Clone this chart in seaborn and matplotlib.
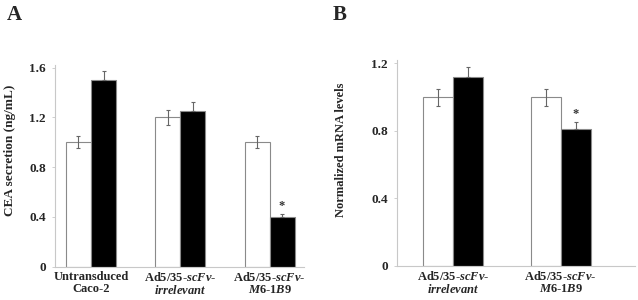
import matplotlib
matplotlib.use("Agg")
import matplotlib.pyplot as plt
import seaborn as sns
import pandas as pd

sns.set_style("white")
plt.rcParams['font.family'] = ['Liberation Serif', 'DejaVu Serif']
plt.rcParams['mathtext.fontset'] = 'custom'
plt.rcParams['mathtext.rm'] = 'Liberation Serif:bold'
plt.rcParams['mathtext.it'] = 'Liberation Serif:bold:italic'
plt.rcParams['mathtext.bf'] = 'Liberation Serif:bold'

# Panel A data
a_categories = ["Untransduced\nCaco-2",
                "$\\mathrm{Ad5/35}$-$\\mathit{scFv}$-\n$\\mathit{irrelevant}$",
                "$\\mathrm{Ad5/35}$-$\\mathit{scFv}$-\n$\\mathit{M6}$-$\\mathit{1B9}$"]
a_white = [1.0, 1.2, 1.0]
a_black = [1.5, 1.25, 0.4]
a_white_err = [0.05, 0.06, 0.05]
a_black_err = [0.07, 0.07, 0.02]
a_yticks = [0, 0.4, 0.8, 1.2, 1.6]
a_yticklabels = ["0", "0.4", "0.8", "1.2", "1.6"]

# Panel B data
b_categories = ["$\\mathrm{Ad5/35}$-$\\mathit{scFv}$-\n$\\mathit{irrelevant}$",
                "$\\mathrm{Ad5/35}$-$\\mathit{scFv}$-\n$\\mathit{M6}$-$\\mathit{1B9}$"]
b_white = [1.0, 1.0]
b_black = [1.12, 0.81]
b_white_err = [0.05, 0.05]
b_black_err = [0.06, 0.04]
b_yticks = [0, 0.4, 0.8, 1.2]
b_yticklabels = ["0", "0.4", "0.8", "1.2"]

spine_c = "#c8c8c8"
edge_c = "#8a8a8a"
err_c = "#666666"

CAT_PX_A = 89.3
CAT_PX_B = 107.3


def panel(fig, axis_px, right_px, y0_px, ytop_px, c0_px, cat_px, cats, white,
          black, werr, berr, yticks, yticklabels, ylim, ylabel, ylabel_size,
          star_idx, star_y, label, label_xy, ylabel_x):
    rect = [axis_px / 638, 1 - y0_px / 300, (right_px - axis_px) / 638,
            (y0_px - ytop_px) / 300]
    ax = fig.add_axes(rect)
    df = pd.DataFrame({
        "cat": list(range(len(cats))) * 2,
        "grp": ["w"] * len(cats) + ["b"] * len(cats),
        "val": list(white) + list(black),
    })
    sns.barplot(data=df, x="cat", y="val", hue="grp", hue_order=["w", "b"],
                palette={"w": "white", "b": "black"}, width=0.56,
                edgecolor=edge_c, linewidth=0.8, errorbar=None, legend=False,
                ax=ax, zorder=2)
    patches = ax.patches[:2 * len(cats)]
    wp = patches[:len(cats)]
    bp = patches[len(cats):]
    for p, v, e in zip(wp, white, werr):
        xc = p.get_x() + p.get_width() / 2
        ax.errorbar(xc, v, yerr=e, fmt="none", ecolor=err_c, elinewidth=0.8,
                    capsize=1.5, capthick=0.8, zorder=3)
    for p, v, e in zip(bp, black, berr):
        xc = p.get_x() + p.get_width() / 2
        ax.errorbar(xc, v, yerr=[[0], [e]], fmt="none", ecolor=err_c,
                    elinewidth=0.8, capsize=1.5, capthick=0.8, zorder=3)
    p = bp[star_idx]
    ax.text(p.get_x() + p.get_width() / 2, star_y, "*", ha="center",
            va="center", fontsize=9, fontweight="bold", color="#333333")
    ax.set_ylim(*ylim)
    ax.set_xlim((axis_px - c0_px) / cat_px, (right_px - c0_px) / cat_px)
    ax.set_yticks(yticks)
    ax.set_yticklabels(yticklabels, fontsize=9.5, fontweight="bold")
    ax.set_xticks(range(len(cats)))
    ax.set_xticklabels(cats, fontsize=9, fontweight="bold", linespacing=1.0)
    ax.tick_params(axis="x", length=0, pad=3)
    ax.tick_params(axis="y", length=2.5, width=0.6, color=spine_c, pad=4,
                   direction="out", left=True)
    for s in ["top", "right"]:
        ax.spines[s].set_visible(False)
    for s in ["left", "bottom"]:
        ax.spines[s].set_color(spine_c)
        ax.spines[s].set_linewidth(0.8)
    ax.set_xlabel("")
    ax.set_ylabel(ylabel, fontsize=ylabel_size, fontweight="bold")
    ax.yaxis.set_label_coords(ylabel_x / 638, 0.5, transform=fig.transFigure)
    fig.text(label_xy[0] / 638, 1 - label_xy[1] / 300, label, fontsize=15,
             fontweight="bold", ha="left", va="center")
    return ax


fig = plt.figure(figsize=(6.38, 3.0), dpi=100)

panel(fig, 55, 304, 266.5, 65.2, 91.0, CAT_PX_A,
      a_categories, a_white, a_black, a_white_err, a_black_err,
      a_yticks, a_yticklabels, (0, 1.62),
      "CEA secretion (ng/mL)", 9.5, 2, 0.49, "A", (7, 15), 16)

panel(fig, 397, 635, 266.0, 60.0, 453.3, CAT_PX_B,
      b_categories, b_white, b_black, b_white_err, b_black_err,
      b_yticks, b_yticklabels, (0, 1.22),
      "Normalized mRNA levels", 9, 1, 0.90, "B", (333, 15), 347)

fig.savefig("out.png", dpi=100)
